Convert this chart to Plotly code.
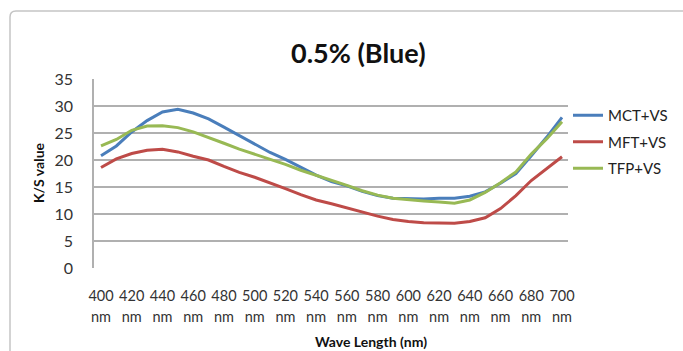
import plotly.graph_objects as go

wavelength = [400, 410, 420, 430, 440, 450, 460, 470, 480, 490, 500, 510, 520, 530, 540, 550,
              560, 570, 580, 590, 600, 610, 620, 630, 640, 650, 660, 670, 680, 690, 700]
mct_vs = [20.8, 22.6, 25.2, 27.3, 28.9, 29.4, 28.7, 27.6, 26.1, 24.5, 22.9, 21.4, 20.1, 18.6, 17.2, 16.0,
          15.2, 14.2, 13.4, 12.9, 12.8, 12.8, 12.9, 12.9, 13.3, 14.1, 15.7, 17.5, 20.8, 24.2, 27.9]
mft_vs = [18.6, 20.2, 21.2, 21.8, 22.0, 21.5, 20.7, 20.0, 18.8, 17.7, 16.8, 15.8, 14.7, 13.6, 12.6, 11.9,
          11.1, 10.3, 9.6, 9.0, 8.6, 8.4, 8.3, 8.3, 8.6, 9.3, 11.0, 13.4, 16.2, 18.4, 20.6]
tfp_vs = [22.6, 23.8, 25.5, 26.3, 26.35, 26.0, 25.2, 24.2, 23.1, 22.0, 21.1, 20.1, 19.2, 18.1, 17.2, 16.2,
          15.3, 14.3, 13.5, 12.9, 12.6, 12.4, 12.2, 12.0, 12.6, 14.0, 15.8, 17.8, 21.1, 23.9, 27.1]

tick_vals = [400, 420, 440, 460, 480, 500, 520, 540, 560, 580, 600, 620, 640, 660, 680, 700]
tick_text = [str(v) for v in tick_vals]
unit_text = ["nm"] * len(tick_vals)
y_ticks = [0, 5, 10, 15, 20, 25, 30, 35]

series = [("MCT+VS", mct_vs, "#4A7EBB"), ("MFT+VS", mft_vs, "#BE4B48"), ("TFP+VS", tfp_vs, "#98B954")]

FONT = "Lato, 'Open Sans', sans-serif"
fig = go.Figure()
for name, vals, col in series:
    fig.add_trace(go.Scatter(x=wavelength, y=vals, name=name, mode="lines",
                             line=dict(color=col, width=3), legendgroup=name))
# invisible trace for the second label row axis
fig.add_trace(go.Scatter(x=[wavelength[0], wavelength[-1]], y=[0, 0], xaxis="x2", mode="lines",
                         line=dict(width=0), showlegend=False, hoverinfo="skip"))

L, R, T, B = 94, 568, 79, 268          # plot area in pixels
W, H = 683, 351
xr = [400 - 7 * 300 / 461, 700 + 6 * 300 / 461]

def px(x):
    return (x - L) / (R - L)

def py(y):
    return (B - y) / (B - T)

fig.update_layout(
    width=W, height=H,
    margin=dict(l=L, r=W - R, t=T, b=H - B, autoexpand=False),
    paper_bgcolor="white", plot_bgcolor="white",
    font=dict(family=FONT, color="#222222"),
    showlegend=True,
    legend=dict(x=1.0, y=py(99), xanchor="left", yanchor="top",
                font=dict(size=15, family=FONT, color="#222"),
                tracegroupgap=4, itemwidth=30, bgcolor="rgba(0,0,0,0)"),
    xaxis=dict(range=xr, tickvals=tick_vals, ticktext=tick_text, showgrid=False,
               tickfont=dict(size=14.5, family=FONT, color="#333"),
               ticks="", ticklabelstandoff=17, showline=False, zeroline=False),
    xaxis2=dict(range=xr, overlaying="x", side="bottom", tickvals=tick_vals, ticktext=unit_text,
                showgrid=False, tickfont=dict(size=14.5, family=FONT, color="#333"),
                ticks="", ticklabelstandoff=38, showline=False, zeroline=False),
    yaxis=dict(range=[0, 35], tickvals=y_ticks, showgrid=True, gridcolor="#B0B0B0", gridwidth=1.5,
               zeroline=False, showline=True, linecolor="#B0B0B0", linewidth=1.5,
               tickfont=dict(size=16, family=FONT, color="#333"), ticks="", ticklabelstandoff=16),
)

fig.add_annotation(text="<b>0.5% (Blue)</b>", x=px(358), y=py(53), xref="paper", yref="paper",
                   xanchor="center", yanchor="middle",
                   showarrow=False, font=dict(size=27, family=FONT, color="#111"))
fig.add_annotation(text="<b>K/S value</b>", x=px(38), y=py(173), xref="paper", yref="paper",
                   xanchor="center", yanchor="middle",
                   showarrow=False, textangle=-90, font=dict(size=14, family=FONT, color="#111"))
fig.add_annotation(text="<b>Wave Length (nm)</b>", x=px(371), y=py(341), xref="paper", yref="paper",
                   xanchor="center", yanchor="middle",
                   showarrow=False, font=dict(size=14, family=FONT, color="#111"))

# outer chart frame: left and top edges (the rest runs off the picture)
frame = dict(color="#C4C4C4", width=1.5)
fig.add_shape(type="line", x0=px(10), x1=px(10), y0=py(17), y1=py(400),
              xref="paper", yref="paper", line=frame, layer="below")
fig.add_shape(type="line", x0=px(16), x1=px(800), y0=py(11), y1=py(11),
              xref="paper", yref="paper", line=frame, layer="below")
fig.add_shape(type="path", xref="paper", yref="paper", line=frame, layer="below",
              path=f"M {px(10)},{py(17)} Q {px(10)},{py(11)} {px(16)},{py(11)}")

page_fix = ("document.body.style.margin='0';document.body.style.overflow='hidden';"
            "document.documentElement.style.overflow='hidden';")
fig.write_html("out.html", config={"displayModeBar": False}, post_script=page_fix)
